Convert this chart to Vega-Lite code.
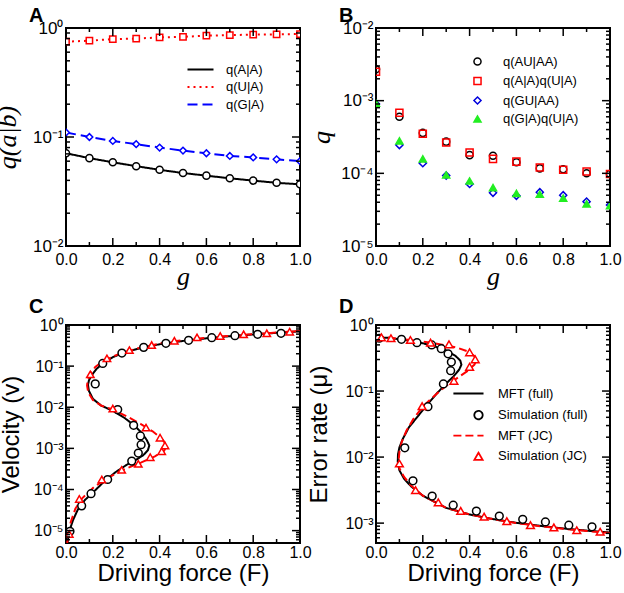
{
"$schema": "https://vega.github.io/schema/vega-lite/v6.json",
"background": "white",
"autosize": {"type": "none"},
"padding": {"left": 66, "top": 28, "right": 558, "bottom": 565},
"columns": 2,
"bounds": "flush",
"spacing": {"row": 79, "column": 76},
"resolve": {
  "scale": {"color": "independent", "shape": "independent", "strokeDash": "independent", "stroke": "independent", "fill": "independent"},
  "legend": {"color": "independent", "shape": "independent", "strokeDash": "independent", "stroke": "independent", "fill": "independent"}
},
"config": {
  "view": {"stroke": "black", "strokeWidth": 2},
  "axis": {"labelFont": "Liberation Sans", "titleFont": "Liberation Sans", "labelFontSize": 16, "titleFontSize": 24, "titleFontWeight": "normal", "labelColor": "black", "titleColor": "black", "ticks": false, "domain": false, "grid": false, "labelFlush": false, "labelOverlap": false, "labelBound": false},
  "legend": {"labelFont": "Liberation Sans", "labelFontSize": 13, "labelColor": "black", "padding": 0},
  "title": {"font": "Liberation Sans", "fontSize": 20, "fontWeight": "bold", "color": "black", "anchor": "start", "frame": "group"},
  "tick": {"thickness": 1.5, "opacity": 1, "color": "black"}
},
"datasets": {
  "xt": [{"t":0.1,"k":"minor"},{"t":0.2,"k":"major"},{"t":0.3,"k":"minor"},{"t":0.4,"k":"major"},{"t":0.5,"k":"minor"},{"t":0.6,"k":"major"},{"t":0.7,"k":"minor"},{"t":0.8,"k":"major"},{"t":0.9,"k":"minor"}],
  "yA": [{"t":0.02,"k":"minor"},{"t":0.03,"k":"minor"},{"t":0.04,"k":"minor"},{"t":0.05,"k":"minor"},{"t":0.06,"k":"minor"},{"t":0.07,"k":"minor"},{"t":0.08,"k":"minor"},{"t":0.09,"k":"minor"},{"t":0.1,"k":"major"},{"t":0.2,"k":"minor"},{"t":0.3,"k":"minor"},{"t":0.4,"k":"minor"},{"t":0.5,"k":"minor"},{"t":0.6,"k":"minor"},{"t":0.7,"k":"minor"},{"t":0.8,"k":"minor"},{"t":0.9,"k":"minor"}],
  "yB": [{"t":0.00002,"k":"minor"},{"t":0.00003,"k":"minor"},{"t":0.00004,"k":"minor"},{"t":0.00005,"k":"minor"},{"t":0.00006,"k":"minor"},{"t":0.00007,"k":"minor"},{"t":0.00008,"k":"minor"},{"t":0.00009,"k":"minor"},{"t":0.0001,"k":"major"},{"t":0.0002,"k":"minor"},{"t":0.0003,"k":"minor"},{"t":0.0004,"k":"minor"},{"t":0.0005,"k":"minor"},{"t":0.0006,"k":"minor"},{"t":0.0007,"k":"minor"},{"t":0.0008,"k":"minor"},{"t":0.0009,"k":"minor"},{"t":0.001,"k":"major"},{"t":0.002,"k":"minor"},{"t":0.003,"k":"minor"},{"t":0.004,"k":"minor"},{"t":0.005,"k":"minor"},{"t":0.006,"k":"minor"},{"t":0.007,"k":"minor"},{"t":0.008,"k":"minor"},{"t":0.009,"k":"minor"}],
  "yC": [{"t":0.000006,"k":"minor"},{"t":0.000007,"k":"minor"},{"t":0.000008,"k":"minor"},{"t":0.000009,"k":"minor"},{"t":0.00001,"k":"major"},{"t":0.00002,"k":"minor"},{"t":0.00003,"k":"minor"},{"t":0.00004,"k":"minor"},{"t":0.00005,"k":"minor"},{"t":0.00006,"k":"minor"},{"t":0.00007,"k":"minor"},{"t":0.00008,"k":"minor"},{"t":0.00009,"k":"minor"},{"t":0.0001,"k":"major"},{"t":0.0002,"k":"minor"},{"t":0.0003,"k":"minor"},{"t":0.0004,"k":"minor"},{"t":0.0005,"k":"minor"},{"t":0.0006,"k":"minor"},{"t":0.0007,"k":"minor"},{"t":0.0008,"k":"minor"},{"t":0.0009,"k":"minor"},{"t":0.001,"k":"major"},{"t":0.002,"k":"minor"},{"t":0.003,"k":"minor"},{"t":0.004,"k":"minor"},{"t":0.005,"k":"minor"},{"t":0.006,"k":"minor"},{"t":0.007,"k":"minor"},{"t":0.008,"k":"minor"},{"t":0.009,"k":"minor"},{"t":0.01,"k":"major"},{"t":0.02,"k":"minor"},{"t":0.03,"k":"minor"},{"t":0.04,"k":"minor"},{"t":0.05,"k":"minor"},{"t":0.06,"k":"minor"},{"t":0.07,"k":"minor"},{"t":0.08,"k":"minor"},{"t":0.09,"k":"minor"},{"t":0.1,"k":"major"},{"t":0.2,"k":"minor"},{"t":0.3,"k":"minor"},{"t":0.4,"k":"minor"},{"t":0.5,"k":"minor"},{"t":0.6,"k":"minor"},{"t":0.7,"k":"minor"},{"t":0.8,"k":"minor"},{"t":0.9,"k":"minor"}],
  "yD": [{"t":0.0006,"k":"minor"},{"t":0.0007,"k":"minor"},{"t":0.0008,"k":"minor"},{"t":0.0009,"k":"minor"},{"t":0.001,"k":"major"},{"t":0.002,"k":"minor"},{"t":0.003,"k":"minor"},{"t":0.004,"k":"minor"},{"t":0.005,"k":"minor"},{"t":0.006,"k":"minor"},{"t":0.007,"k":"minor"},{"t":0.008,"k":"minor"},{"t":0.009,"k":"minor"},{"t":0.01,"k":"major"},{"t":0.02,"k":"minor"},{"t":0.03,"k":"minor"},{"t":0.04,"k":"minor"},{"t":0.05,"k":"minor"},{"t":0.06,"k":"minor"},{"t":0.07,"k":"minor"},{"t":0.08,"k":"minor"},{"t":0.09,"k":"minor"},{"t":0.1,"k":"major"},{"t":0.2,"k":"minor"},{"t":0.3,"k":"minor"},{"t":0.4,"k":"minor"},{"t":0.5,"k":"minor"},{"t":0.6,"k":"minor"},{"t":0.7,"k":"minor"},{"t":0.8,"k":"minor"},{"t":0.9,"k":"minor"}],
  "A": [
    {"g":0.0,"s":"q(A|A)","q":0.071},{"g":0.1,"s":"q(A|A)","q":0.064},{"g":0.2,"s":"q(A|A)","q":0.0586},{"g":0.3,"s":"q(A|A)","q":0.054},{"g":0.4,"s":"q(A|A)","q":0.050},{"g":0.5,"s":"q(A|A)","q":0.0467},{"g":0.6,"s":"q(A|A)","q":0.0442},{"g":0.7,"s":"q(A|A)","q":0.0418},{"g":0.8,"s":"q(A|A)","q":0.0398},{"g":0.9,"s":"q(A|A)","q":0.038},{"g":1.0,"s":"q(A|A)","q":0.0368},
    {"g":0.0,"s":"q(U|A)","q":0.75},{"g":0.1,"s":"q(U|A)","q":0.765},{"g":0.2,"s":"q(U|A)","q":0.79},{"g":0.3,"s":"q(U|A)","q":0.80},{"g":0.4,"s":"q(U|A)","q":0.82},{"g":0.5,"s":"q(U|A)","q":0.83},{"g":0.6,"s":"q(U|A)","q":0.85},{"g":0.7,"s":"q(U|A)","q":0.86},{"g":0.8,"s":"q(U|A)","q":0.87},{"g":0.9,"s":"q(U|A)","q":0.875},{"g":1.0,"s":"q(U|A)","q":0.88},
    {"g":0.0,"s":"q(G|A)","q":0.11},{"g":0.1,"s":"q(G|A)","q":0.10},{"g":0.2,"s":"q(G|A)","q":0.092},{"g":0.3,"s":"q(G|A)","q":0.086},{"g":0.4,"s":"q(G|A)","q":0.080},{"g":0.5,"s":"q(G|A)","q":0.075},{"g":0.6,"s":"q(G|A)","q":0.071},{"g":0.7,"s":"q(G|A)","q":0.067},{"g":0.8,"s":"q(G|A)","q":0.065},{"g":0.9,"s":"q(G|A)","q":0.0624},{"g":1.0,"s":"q(G|A)","q":0.060}
  ],
  "B": [
    {"g":0.0,"s":"q(AU|AA)","q":0.0027},{"g":0.1,"s":"q(AU|AA)","q":0.0006},{"g":0.2,"s":"q(AU|AA)","q":0.00036},{"g":0.3,"s":"q(AU|AA)","q":0.000273},{"g":0.4,"s":"q(AU|AA)","q":0.000178},{"g":0.5,"s":"q(AU|AA)","q":0.000175},{"g":0.6,"s":"q(AU|AA)","q":0.000142},{"g":0.7,"s":"q(AU|AA)","q":0.000117},{"g":0.8,"s":"q(AU|AA)","q":0.000114},{"g":0.9,"s":"q(AU|AA)","q":0.0001},{"g":1.0,"s":"q(AU|AA)","q":0.000098},
    {"g":0.0,"s":"q(A|A)q(U|A)","q":0.0025},{"g":0.1,"s":"q(A|A)q(U|A)","q":0.00068},{"g":0.2,"s":"q(A|A)q(U|A)","q":0.00035},{"g":0.3,"s":"q(A|A)q(U|A)","q":0.000265},{"g":0.4,"s":"q(A|A)q(U|A)","q":0.000193},{"g":0.5,"s":"q(A|A)q(U|A)","q":0.000158},{"g":0.6,"s":"q(A|A)q(U|A)","q":0.000145},{"g":0.7,"s":"q(A|A)q(U|A)","q":0.00012},{"g":0.8,"s":"q(A|A)q(U|A)","q":0.000112},{"g":0.9,"s":"q(A|A)q(U|A)","q":0.000106},{"g":1.0,"s":"q(A|A)q(U|A)","q":0.000098},
    {"g":0.0,"s":"q(GU|AA)","q":0.0009},{"g":0.1,"s":"q(GU|AA)","q":0.000245},{"g":0.2,"s":"q(GU|AA)","q":0.000138},{"g":0.3,"s":"q(GU|AA)","q":0.000093},{"g":0.4,"s":"q(GU|AA)","q":0.0000715},{"g":0.5,"s":"q(GU|AA)","q":0.000054},{"g":0.6,"s":"q(GU|AA)","q":0.000049},{"g":0.7,"s":"q(GU|AA)","q":0.000055},{"g":0.8,"s":"q(GU|AA)","q":0.00005},{"g":0.9,"s":"q(GU|AA)","q":0.0000408},{"g":1.0,"s":"q(GU|AA)","q":0.0000367},
    {"g":0.0,"s":"q(G|A)q(U|A)","q":0.00092},{"g":0.1,"s":"q(G|A)q(U|A)","q":0.00028},{"g":0.2,"s":"q(G|A)q(U|A)","q":0.000158},{"g":0.3,"s":"q(G|A)q(U|A)","q":0.000095},{"g":0.4,"s":"q(G|A)q(U|A)","q":0.0000785},{"g":0.5,"s":"q(G|A)q(U|A)","q":0.0000635},{"g":0.6,"s":"q(G|A)q(U|A)","q":0.000053},{"g":0.7,"s":"q(G|A)q(U|A)","q":0.0000515},{"g":0.8,"s":"q(G|A)q(U|A)","q":0.0000455},{"g":0.9,"s":"q(G|A)q(U|A)","q":0.000038},{"g":1.0,"s":"q(G|A)q(U|A)","q":0.000036}
  ],
  "Cline": [
    {"s":"MFT (full)","i":1,"F":1.0,"v":0.70},{"s":"MFT (full)","i":2,"F":0.9,"v":0.645},{"s":"MFT (full)","i":3,"F":0.8,"v":0.59},{"s":"MFT (full)","i":4,"F":0.7,"v":0.535},{"s":"MFT (full)","i":5,"F":0.6,"v":0.475},{"s":"MFT (full)","i":6,"F":0.5,"v":0.41},{"s":"MFT (full)","i":7,"F":0.4,"v":0.34},{"s":"MFT (full)","i":8,"F":0.33,"v":0.285},{"s":"MFT (full)","i":9,"F":0.25,"v":0.215},{"s":"MFT (full)","i":10,"F":0.2,"v":0.165},{"s":"MFT (full)","i":11,"F":0.16,"v":0.12},{"s":"MFT (full)","i":12,"F":0.13,"v":0.085},{"s":"MFT (full)","i":13,"F":0.11,"v":0.06},{"s":"MFT (full)","i":14,"F":0.098,"v":0.045},{"s":"MFT (full)","i":15,"F":0.094,"v":0.035},{"s":"MFT (full)","i":16,"F":0.098,"v":0.025},{"s":"MFT (full)","i":17,"F":0.115,"v":0.016},{"s":"MFT (full)","i":18,"F":0.15,"v":0.011},{"s":"MFT (full)","i":19,"F":0.2,"v":0.0082},{"s":"MFT (full)","i":20,"F":0.25,"v":0.0055},{"s":"MFT (full)","i":21,"F":0.29,"v":0.0037},{"s":"MFT (full)","i":22,"F":0.32,"v":0.0025},{"s":"MFT (full)","i":23,"F":0.345,"v":0.0016},{"s":"MFT (full)","i":24,"F":0.356,"v":0.00118},{"s":"MFT (full)","i":25,"F":0.35,"v":0.0009},{"s":"MFT (full)","i":26,"F":0.33,"v":0.00068},{"s":"MFT (full)","i":27,"F":0.3,"v":0.00053},{"s":"MFT (full)","i":28,"F":0.26,"v":0.0004},{"s":"MFT (full)","i":29,"F":0.21,"v":0.00026},{"s":"MFT (full)","i":30,"F":0.16,"v":0.00015},{"s":"MFT (full)","i":31,"F":0.12,"v":0.00009},{"s":"MFT (full)","i":32,"F":0.08,"v":0.000055},{"s":"MFT (full)","i":33,"F":0.05,"v":0.000032},{"s":"MFT (full)","i":34,"F":0.03,"v":0.000018},{"s":"MFT (full)","i":35,"F":0.015,"v":0.00001},{"s":"MFT (full)","i":36,"F":0.006,"v":0.000005},
    {"s":"MFT (JC)","i":1,"F":1.0,"v":0.71},{"s":"MFT (JC)","i":2,"F":0.9,"v":0.655},{"s":"MFT (JC)","i":3,"F":0.8,"v":0.60},{"s":"MFT (JC)","i":4,"F":0.7,"v":0.545},{"s":"MFT (JC)","i":5,"F":0.6,"v":0.49},{"s":"MFT (JC)","i":6,"F":0.5,"v":0.43},{"s":"MFT (JC)","i":7,"F":0.4,"v":0.355},{"s":"MFT (JC)","i":8,"F":0.3,"v":0.265},{"s":"MFT (JC)","i":9,"F":0.22,"v":0.19},{"s":"MFT (JC)","i":10,"F":0.16,"v":0.135},{"s":"MFT (JC)","i":11,"F":0.125,"v":0.095},{"s":"MFT (JC)","i":12,"F":0.105,"v":0.066},{"s":"MFT (JC)","i":13,"F":0.093,"v":0.047},{"s":"MFT (JC)","i":14,"F":0.09,"v":0.034},{"s":"MFT (JC)","i":15,"F":0.095,"v":0.023},{"s":"MFT (JC)","i":16,"F":0.115,"v":0.015},{"s":"MFT (JC)","i":17,"F":0.15,"v":0.011},{"s":"MFT (JC)","i":18,"F":0.2,"v":0.0088},{"s":"MFT (JC)","i":19,"F":0.26,"v":0.006},{"s":"MFT (JC)","i":20,"F":0.32,"v":0.0039},{"s":"MFT (JC)","i":21,"F":0.37,"v":0.0026},{"s":"MFT (JC)","i":22,"F":0.41,"v":0.0017},{"s":"MFT (JC)","i":23,"F":0.43,"v":0.0012},{"s":"MFT (JC)","i":24,"F":0.42,"v":0.00088},{"s":"MFT (JC)","i":25,"F":0.38,"v":0.00064},{"s":"MFT (JC)","i":26,"F":0.32,"v":0.00045},{"s":"MFT (JC)","i":27,"F":0.25,"v":0.00031},{"s":"MFT (JC)","i":28,"F":0.18,"v":0.000195},{"s":"MFT (JC)","i":29,"F":0.12,"v":0.000115},{"s":"MFT (JC)","i":30,"F":0.07,"v":0.000062},{"s":"MFT (JC)","i":31,"F":0.04,"v":0.000034},{"s":"MFT (JC)","i":32,"F":0.02,"v":0.000016},{"s":"MFT (JC)","i":33,"F":0.01,"v":0.000008},{"s":"MFT (JC)","i":34,"F":0.005,"v":0.000005}
  ],
  "Cpts": [
    {"s":"Simulation (full)","F":0.919,"v":0.628},{"s":"Simulation (full)","F":0.819,"v":0.593},{"s":"Simulation (full)","F":0.722,"v":0.548},{"s":"Simulation (full)","F":0.623,"v":0.49},{"s":"Simulation (full)","F":0.524,"v":0.424},{"s":"Simulation (full)","F":0.427,"v":0.358},{"s":"Simulation (full)","F":0.332,"v":0.286},{"s":"Simulation (full)","F":0.239,"v":0.208},{"s":"Simulation (full)","F":0.157,"v":0.116},{"s":"Simulation (full)","F":0.125,"v":0.037},{"s":"Simulation (full)","F":0.221,"v":0.0088},{"s":"Simulation (full)","F":0.289,"v":0.00364},{"s":"Simulation (full)","F":0.318,"v":0.002},{"s":"Simulation (full)","F":0.321,"v":0.00123},{"s":"Simulation (full)","F":0.309,"v":0.00077},{"s":"Simulation (full)","F":0.281,"v":0.00049},{"s":"Simulation (full)","F":0.178,"v":0.000175},{"s":"Simulation (full)","F":0.107,"v":0.000079},{"s":"Simulation (full)","F":0.067,"v":0.00004},{"s":"Simulation (full)","F":0.017,"v":0.0000096},
    {"s":"Simulation (JC)","F":0.956,"v":0.687},{"s":"Simulation (JC)","F":0.858,"v":0.628},{"s":"Simulation (JC)","F":0.759,"v":0.593},{"s":"Simulation (JC)","F":0.659,"v":0.539},{"s":"Simulation (JC)","F":0.56,"v":0.5},{"s":"Simulation (JC)","F":0.463,"v":0.414},{"s":"Simulation (JC)","F":0.366,"v":0.325},{"s":"Simulation (JC)","F":0.271,"v":0.245},{"s":"Simulation (JC)","F":0.175,"v":0.154},{"s":"Simulation (JC)","F":0.104,"v":0.063},{"s":"Simulation (JC)","F":0.2,"v":0.0093},{"s":"Simulation (JC)","F":0.342,"v":0.0032},{"s":"Simulation (JC)","F":0.402,"v":0.00182},{"s":"Simulation (JC)","F":0.423,"v":0.00118},{"s":"Simulation (JC)","F":0.409,"v":0.00085},{"s":"Simulation (JC)","F":0.36,"v":0.00061},{"s":"Simulation (JC)","F":0.309,"v":0.00042},{"s":"Simulation (JC)","F":0.238,"v":0.0003},{"s":"Simulation (JC)","F":0.153,"v":0.000175},{"s":"Simulation (JC)","F":0.057,"v":0.000059},{"s":"Simulation (JC)","F":0.014,"v":0.0000083}
  ],
  "Dline": [
    {"s":"MFT (full)","i":1,"F":0.0,"m":0.65},{"s":"MFT (full)","i":2,"F":0.05,"m":0.64},{"s":"MFT (full)","i":3,"F":0.1,"m":0.61},{"s":"MFT (full)","i":4,"F":0.15,"m":0.575},{"s":"MFT (full)","i":5,"F":0.2,"m":0.53},{"s":"MFT (full)","i":6,"F":0.25,"m":0.475},{"s":"MFT (full)","i":7,"F":0.3,"m":0.41},{"s":"MFT (full)","i":8,"F":0.34,"m":0.34},{"s":"MFT (full)","i":9,"F":0.36,"m":0.29},{"s":"MFT (full)","i":10,"F":0.365,"m":0.25},{"s":"MFT (full)","i":11,"F":0.355,"m":0.21},{"s":"MFT (full)","i":12,"F":0.33,"m":0.165},{"s":"MFT (full)","i":13,"F":0.3,"m":0.13},{"s":"MFT (full)","i":14,"F":0.26,"m":0.092},{"s":"MFT (full)","i":15,"F":0.22,"m":0.063},{"s":"MFT (full)","i":16,"F":0.18,"m":0.042},{"s":"MFT (full)","i":17,"F":0.14,"m":0.028},{"s":"MFT (full)","i":18,"F":0.115,"m":0.019},{"s":"MFT (full)","i":19,"F":0.1,"m":0.014},{"s":"MFT (full)","i":20,"F":0.094,"m":0.011},{"s":"MFT (full)","i":21,"F":0.093,"m":0.0085},{"s":"MFT (full)","i":22,"F":0.1,"m":0.0063},{"s":"MFT (full)","i":23,"F":0.12,"m":0.0047},{"s":"MFT (full)","i":24,"F":0.15,"m":0.0036},{"s":"MFT (full)","i":25,"F":0.2,"m":0.0026},{"s":"MFT (full)","i":26,"F":0.3,"m":0.0017},{"s":"MFT (full)","i":27,"F":0.4,"m":0.00135},{"s":"MFT (full)","i":28,"F":0.5,"m":0.00115},{"s":"MFT (full)","i":29,"F":0.6,"m":0.00101},{"s":"MFT (full)","i":30,"F":0.7,"m":0.00091},{"s":"MFT (full)","i":31,"F":0.8,"m":0.00083},{"s":"MFT (full)","i":32,"F":0.9,"m":0.00077},{"s":"MFT (full)","i":33,"F":1.0,"m":0.00072},
    {"s":"MFT (JC)","i":1,"F":0.0,"m":0.66},{"s":"MFT (JC)","i":2,"F":0.05,"m":0.645},{"s":"MFT (JC)","i":3,"F":0.1,"m":0.62},{"s":"MFT (JC)","i":4,"F":0.15,"m":0.59},{"s":"MFT (JC)","i":5,"F":0.2,"m":0.56},{"s":"MFT (JC)","i":6,"F":0.25,"m":0.53},{"s":"MFT (JC)","i":7,"F":0.3,"m":0.49},{"s":"MFT (JC)","i":8,"F":0.35,"m":0.45},{"s":"MFT (JC)","i":9,"F":0.39,"m":0.4},{"s":"MFT (JC)","i":10,"F":0.42,"m":0.34},{"s":"MFT (JC)","i":11,"F":0.43,"m":0.29},{"s":"MFT (JC)","i":12,"F":0.42,"m":0.25},{"s":"MFT (JC)","i":13,"F":0.39,"m":0.2},{"s":"MFT (JC)","i":14,"F":0.35,"m":0.16},{"s":"MFT (JC)","i":15,"F":0.3,"m":0.12},{"s":"MFT (JC)","i":16,"F":0.25,"m":0.085},{"s":"MFT (JC)","i":17,"F":0.2,"m":0.058},{"s":"MFT (JC)","i":18,"F":0.16,"m":0.038},{"s":"MFT (JC)","i":19,"F":0.13,"m":0.025},{"s":"MFT (JC)","i":20,"F":0.11,"m":0.017},{"s":"MFT (JC)","i":21,"F":0.1,"m":0.012},{"s":"MFT (JC)","i":22,"F":0.097,"m":0.009},{"s":"MFT (JC)","i":23,"F":0.1,"m":0.0068},{"s":"MFT (JC)","i":24,"F":0.12,"m":0.005},{"s":"MFT (JC)","i":25,"F":0.15,"m":0.0037},{"s":"MFT (JC)","i":26,"F":0.2,"m":0.0026},{"s":"MFT (JC)","i":27,"F":0.3,"m":0.0017},{"s":"MFT (JC)","i":28,"F":0.4,"m":0.00135},{"s":"MFT (JC)","i":29,"F":0.5,"m":0.00115},{"s":"MFT (JC)","i":30,"F":0.6,"m":0.001},{"s":"MFT (JC)","i":31,"F":0.7,"m":0.0009},{"s":"MFT (JC)","i":32,"F":0.8,"m":0.00082},{"s":"MFT (JC)","i":33,"F":0.9,"m":0.00076},{"s":"MFT (JC)","i":34,"F":1.0,"m":0.00071}
  ],
  "Dpts": [
    {"s":"Simulation (full)","F":0.014,"m":0.63},{"s":"Simulation (full)","F":0.109,"m":0.607},{"s":"Simulation (full)","F":0.175,"m":0.54},{"s":"Simulation (full)","F":0.238,"m":0.498},{"s":"Simulation (full)","F":0.279,"m":0.437},{"s":"Simulation (full)","F":0.308,"m":0.366},{"s":"Simulation (full)","F":0.322,"m":0.275},{"s":"Simulation (full)","F":0.319,"m":0.203},{"s":"Simulation (full)","F":0.288,"m":0.128},{"s":"Simulation (full)","F":0.222,"m":0.058},{"s":"Simulation (full)","F":0.123,"m":0.0138},{"s":"Simulation (full)","F":0.158,"m":0.00437},{"s":"Simulation (full)","F":0.24,"m":0.00257},{"s":"Simulation (full)","F":0.33,"m":0.00187},{"s":"Simulation (full)","F":0.429,"m":0.00152},{"s":"Simulation (full)","F":0.527,"m":0.00128},{"s":"Simulation (full)","F":0.627,"m":0.00114},{"s":"Simulation (full)","F":0.724,"m":0.00104},{"s":"Simulation (full)","F":0.824,"m":0.00093},{"s":"Simulation (full)","F":0.923,"m":0.00088},
    {"s":"Simulation (JC)","F":0.023,"m":0.651},{"s":"Simulation (JC)","F":0.064,"m":0.63},{"s":"Simulation (JC)","F":0.147,"m":0.593},{"s":"Simulation (JC)","F":0.233,"m":0.54},{"s":"Simulation (JC)","F":0.312,"m":0.51},{"s":"Simulation (JC)","F":0.4,"m":0.386},{"s":"Simulation (JC)","F":0.424,"m":0.302},{"s":"Simulation (JC)","F":0.4,"m":0.233},{"s":"Simulation (JC)","F":0.333,"m":0.143},{"s":"Simulation (JC)","F":0.197,"m":0.059},{"s":"Simulation (JC)","F":0.1,"m":0.008},{"s":"Simulation (JC)","F":0.169,"m":0.00316},{"s":"Simulation (JC)","F":0.266,"m":0.00206},{"s":"Simulation (JC)","F":0.362,"m":0.00153},{"s":"Simulation (JC)","F":0.462,"m":0.00125},{"s":"Simulation (JC)","F":0.559,"m":0.00107},{"s":"Simulation (JC)","F":0.66,"m":0.00093},{"s":"Simulation (JC)","F":0.76,"m":0.00086},{"s":"Simulation (JC)","F":0.858,"m":0.00078},{"s":"Simulation (JC)","F":0.958,"m":0.00074}
  ]
},
"concat": [
  {
    "width": 234, "height": 218,
    "title": {"text": "A", "dx": -37, "offset": -7},
    "layer": [
      {"data": {"name": "A"},
       "mark": {"type": "line", "strokeWidth": 2, "clip": true},
       "encoding": {
         "x": {"field": "g", "type": "quantitative", "scale": {"domain": [0, 1], "nice": false, "zero": false}, "axis": {"orient": "bottom", "values": [0, 0.2, 0.4, 0.6, 0.8, 1], "format": ".1f", "labelPadding": 5, "title": "g", "titleFont": "Liberation Serif", "titleFontStyle": "italic", "titleFontSize": 26, "titlePadding": -4}},
         "y": {"field": "q", "type": "quantitative", "scale": {"type": "log", "domain": [0.01, 1], "nice": false}, "axis": {"orient": "left", "values": [0.01, 0.1, 1], "labelExpr": "'10' + (datum.value < 0.99 ? '⁻' : '') + ['⁰','¹','²','³','⁴','⁵','⁶'][round(abs(log(datum.value)/LN10))]", "labelPadding": 3, "labelFontSize": 17, "title": "q(a|b)", "titleFont": "Liberation Serif", "titleFontStyle": "italic", "titleFontSize": 26, "titlePadding": 12}},
         "color": {"field": "s", "type": "nominal", "scale": {"domain": ["q(A|A)", "q(U|A)", "q(G|A)"], "range": ["black", "#ff0000", "#0000ff"]}, "legend": {"orient": "none", "legendX": 128, "legendY": 35, "title": null, "symbolType": "M-3.25,0H3.25", "symbolSize": 64, "symbolStrokeWidth": 2, "labelOffset": 19, "rowPadding": 3.5}},
         "strokeDash": {"field": "s", "type": "nominal", "scale": {"domain": ["q(A|A)", "q(U|A)", "q(G|A)"], "range": [[1, 0], [2, 4], [10, 5]]}, "legend": {"orient": "none", "legendX": 128, "legendY": 35, "title": null, "symbolType": "M-3.25,0H3.25", "symbolSize": 64, "symbolStrokeWidth": 2, "labelOffset": 19, "rowPadding": 3.5}}
       }},
      {"data": {"name": "A"}, "transform": [{"filter": "datum.s == 'q(A|A)'"}],
       "mark": {"type": "point", "shape": "circle", "filled": false, "fill": "white", "stroke": "black", "strokeWidth": 1.5, "size": 50, "opacity": 1, "clip": true},
       "encoding": {"x": {"field": "g", "type": "quantitative", "scale": {"domain": [0, 1], "nice": false, "zero": false}}, "y": {"field": "q", "type": "quantitative", "scale": {"type": "log", "domain": [0.01, 1], "nice": false}}}},
      {"data": {"name": "A"}, "transform": [{"filter": "datum.s == 'q(U|A)'"}],
       "mark": {"type": "point", "shape": "square", "filled": false, "fill": "white", "stroke": "#ff0000", "strokeWidth": 1.5, "size": 40, "opacity": 1, "clip": true},
       "encoding": {"x": {"field": "g", "type": "quantitative", "scale": {"domain": [0, 1], "nice": false, "zero": false}}, "y": {"field": "q", "type": "quantitative", "scale": {"type": "log", "domain": [0.01, 1], "nice": false}}}},
      {"data": {"name": "A"}, "transform": [{"filter": "datum.s == 'q(G|A)'"}],
       "mark": {"type": "point", "shape": "diamond", "filled": false, "fill": "white", "stroke": "#0000ff", "strokeWidth": 1.5, "size": 45, "opacity": 1, "clip": true},
       "encoding": {"x": {"field": "g", "type": "quantitative", "scale": {"domain": [0, 1], "nice": false, "zero": false}}, "y": {"field": "q", "type": "quantitative", "scale": {"type": "log", "domain": [0.01, 1], "nice": false}}}},
      {"data": {"name": "yA"}, "transform": [{"filter": "datum.k == 'major'"}], "mark": {"type": "tick", "orient": "horizontal", "size": 8, "xOffset": 4, "clip": true},
       "encoding": {"x": {"datum": 0, "type": "quantitative", "scale": {"domain": [0, 1], "nice": false, "zero": false}}, "y": {"field": "t", "type": "quantitative", "scale": {"type": "log", "domain": [0.01, 1], "nice": false}}}},
      {"data": {"name": "yA"}, "transform": [{"filter": "datum.k == 'minor'"}], "mark": {"type": "tick", "orient": "horizontal", "size": 4, "xOffset": 2, "clip": true},
       "encoding": {"x": {"datum": 0, "type": "quantitative", "scale": {"domain": [0, 1], "nice": false, "zero": false}}, "y": {"field": "t", "type": "quantitative", "scale": {"type": "log", "domain": [0.01, 1], "nice": false}}}},
      {"data": {"name": "yA"}, "transform": [{"filter": "datum.k == 'major'"}], "mark": {"type": "tick", "orient": "horizontal", "size": 8, "xOffset": -4, "clip": true},
       "encoding": {"x": {"datum": 1, "type": "quantitative", "scale": {"domain": [0, 1], "nice": false, "zero": false}}, "y": {"field": "t", "type": "quantitative", "scale": {"type": "log", "domain": [0.01, 1], "nice": false}}}},
      {"data": {"name": "yA"}, "transform": [{"filter": "datum.k == 'minor'"}], "mark": {"type": "tick", "orient": "horizontal", "size": 4, "xOffset": -2, "clip": true},
       "encoding": {"x": {"datum": 1, "type": "quantitative", "scale": {"domain": [0, 1], "nice": false, "zero": false}}, "y": {"field": "t", "type": "quantitative", "scale": {"type": "log", "domain": [0.01, 1], "nice": false}}}},
      {"data": {"name": "xt"}, "transform": [{"filter": "datum.k == 'major'"}], "mark": {"type": "tick", "orient": "vertical", "size": 8, "yOffset": -4, "clip": true},
       "encoding": {"x": {"field": "t", "type": "quantitative", "scale": {"domain": [0, 1], "nice": false, "zero": false}}, "y": {"datum": 0.01, "type": "quantitative", "scale": {"type": "log", "domain": [0.01, 1], "nice": false}}}},
      {"data": {"name": "xt"}, "transform": [{"filter": "datum.k == 'minor'"}], "mark": {"type": "tick", "orient": "vertical", "size": 4, "yOffset": -2, "clip": true},
       "encoding": {"x": {"field": "t", "type": "quantitative", "scale": {"domain": [0, 1], "nice": false, "zero": false}}, "y": {"datum": 0.01, "type": "quantitative", "scale": {"type": "log", "domain": [0.01, 1], "nice": false}}}},
      {"data": {"name": "xt"}, "transform": [{"filter": "datum.k == 'major'"}], "mark": {"type": "tick", "orient": "vertical", "size": 8, "yOffset": 4, "clip": true},
       "encoding": {"x": {"field": "t", "type": "quantitative", "scale": {"domain": [0, 1], "nice": false, "zero": false}}, "y": {"datum": 1, "type": "quantitative", "scale": {"type": "log", "domain": [0.01, 1], "nice": false}}}},
      {"data": {"name": "xt"}, "transform": [{"filter": "datum.k == 'minor'"}], "mark": {"type": "tick", "orient": "vertical", "size": 4, "yOffset": 2, "clip": true},
       "encoding": {"x": {"field": "t", "type": "quantitative", "scale": {"domain": [0, 1], "nice": false, "zero": false}}, "y": {"datum": 1, "type": "quantitative", "scale": {"type": "log", "domain": [0.01, 1], "nice": false}}}}
    ]
  },
  {
    "width": 234, "height": 218,
    "title": {"text": "B", "dx": -37, "offset": -7},
    "layer": [
      {"data": {"name": "B"},
       "mark": {"type": "point", "strokeWidth": 1.5, "size": 50, "opacity": 1, "clip": true},
       "encoding": {
         "x": {"field": "g", "type": "quantitative", "scale": {"domain": [0, 1], "nice": false, "zero": false}, "axis": {"orient": "bottom", "values": [0, 0.2, 0.4, 0.6, 0.8, 1], "format": ".1f", "labelPadding": 5, "title": "g", "titleFont": "Liberation Serif", "titleFontStyle": "italic", "titleFontSize": 26, "titlePadding": -4}},
         "y": {"field": "q", "type": "quantitative", "scale": {"type": "log", "domain": [0.00001, 0.01], "nice": false}, "axis": {"orient": "left", "values": [0.00001, 0.0001, 0.001, 0.01], "labelExpr": "'10' + (datum.value < 0.99 ? '⁻' : '') + ['⁰','¹','²','³','⁴','⁵','⁶'][round(abs(log(datum.value)/LN10))]", "labelPadding": 3, "labelFontSize": 17, "title": "q", "titleFont": "Liberation Serif", "titleFontStyle": "italic", "titleFontSize": 26, "titlePadding": 6}},
         "stroke": {"field": "s", "type": "nominal", "scale": {"domain": ["q(AU|AA)", "q(A|A)q(U|A)", "q(GU|AA)", "q(G|A)q(U|A)"], "range": ["black", "#ff0000", "#0000dd", "#22ee22"]}, "legend": {"orient": "none", "legendX": 95, "legendY": 27, "title": null, "symbolSize": 50, "symbolStrokeWidth": 1.5, "labelOffset": 19, "rowPadding": 4.5}},
         "fill": {"field": "s", "type": "nominal", "scale": {"domain": ["q(AU|AA)", "q(A|A)q(U|A)", "q(GU|AA)", "q(G|A)q(U|A)"], "range": ["transparent", "transparent", "transparent", "#22ee22"]}, "legend": {"orient": "none", "legendX": 95, "legendY": 27, "title": null, "symbolSize": 50, "symbolStrokeWidth": 1.5, "labelOffset": 19, "rowPadding": 4.5}},
         "shape": {"field": "s", "type": "nominal", "scale": {"domain": ["q(AU|AA)", "q(A|A)q(U|A)", "q(GU|AA)", "q(G|A)q(U|A)"], "range": ["circle", "square", "diamond", "triangle-up"]}, "legend": {"orient": "none", "legendX": 95, "legendY": 27, "title": null, "symbolSize": 50, "symbolStrokeWidth": 1.5, "labelOffset": 19, "rowPadding": 4.5}}
       }},
      {"data": {"name": "yB"}, "transform": [{"filter": "datum.k == 'major'"}], "mark": {"type": "tick", "orient": "horizontal", "size": 8, "xOffset": 4, "clip": true},
       "encoding": {"x": {"datum": 0, "type": "quantitative", "scale": {"domain": [0, 1], "nice": false, "zero": false}}, "y": {"field": "t", "type": "quantitative", "scale": {"type": "log", "domain": [0.00001, 0.01], "nice": false}}}},
      {"data": {"name": "yB"}, "transform": [{"filter": "datum.k == 'minor'"}], "mark": {"type": "tick", "orient": "horizontal", "size": 4, "xOffset": 2, "clip": true},
       "encoding": {"x": {"datum": 0, "type": "quantitative", "scale": {"domain": [0, 1], "nice": false, "zero": false}}, "y": {"field": "t", "type": "quantitative", "scale": {"type": "log", "domain": [0.00001, 0.01], "nice": false}}}},
      {"data": {"name": "yB"}, "transform": [{"filter": "datum.k == 'major'"}], "mark": {"type": "tick", "orient": "horizontal", "size": 8, "xOffset": -4, "clip": true},
       "encoding": {"x": {"datum": 1, "type": "quantitative", "scale": {"domain": [0, 1], "nice": false, "zero": false}}, "y": {"field": "t", "type": "quantitative", "scale": {"type": "log", "domain": [0.00001, 0.01], "nice": false}}}},
      {"data": {"name": "yB"}, "transform": [{"filter": "datum.k == 'minor'"}], "mark": {"type": "tick", "orient": "horizontal", "size": 4, "xOffset": -2, "clip": true},
       "encoding": {"x": {"datum": 1, "type": "quantitative", "scale": {"domain": [0, 1], "nice": false, "zero": false}}, "y": {"field": "t", "type": "quantitative", "scale": {"type": "log", "domain": [0.00001, 0.01], "nice": false}}}},
      {"data": {"name": "xt"}, "transform": [{"filter": "datum.k == 'major'"}], "mark": {"type": "tick", "orient": "vertical", "size": 8, "yOffset": -4, "clip": true},
       "encoding": {"x": {"field": "t", "type": "quantitative", "scale": {"domain": [0, 1], "nice": false, "zero": false}}, "y": {"datum": 0.00001, "type": "quantitative", "scale": {"type": "log", "domain": [0.00001, 0.01], "nice": false}}}},
      {"data": {"name": "xt"}, "transform": [{"filter": "datum.k == 'minor'"}], "mark": {"type": "tick", "orient": "vertical", "size": 4, "yOffset": -2, "clip": true},
       "encoding": {"x": {"field": "t", "type": "quantitative", "scale": {"domain": [0, 1], "nice": false, "zero": false}}, "y": {"datum": 0.00001, "type": "quantitative", "scale": {"type": "log", "domain": [0.00001, 0.01], "nice": false}}}},
      {"data": {"name": "xt"}, "transform": [{"filter": "datum.k == 'major'"}], "mark": {"type": "tick", "orient": "vertical", "size": 8, "yOffset": 4, "clip": true},
       "encoding": {"x": {"field": "t", "type": "quantitative", "scale": {"domain": [0, 1], "nice": false, "zero": false}}, "y": {"datum": 0.01, "type": "quantitative", "scale": {"type": "log", "domain": [0.00001, 0.01], "nice": false}}}},
      {"data": {"name": "xt"}, "transform": [{"filter": "datum.k == 'minor'"}], "mark": {"type": "tick", "orient": "vertical", "size": 4, "yOffset": 2, "clip": true},
       "encoding": {"x": {"field": "t", "type": "quantitative", "scale": {"domain": [0, 1], "nice": false, "zero": false}}, "y": {"datum": 0.01, "type": "quantitative", "scale": {"type": "log", "domain": [0.00001, 0.01], "nice": false}}}}
    ]
  },
  {
    "width": 234, "height": 218,
    "title": {"text": "C", "dx": -37, "offset": 0},
    "layer": [
      {"data": {"name": "Cline"},
       "mark": {"type": "line", "strokeWidth": 2, "clip": true},
       "encoding": {
         "x": {"field": "F", "type": "quantitative", "scale": {"domain": [0, 1], "nice": false, "zero": false}, "axis": {"orient": "bottom", "values": [0, 0.2, 0.4, 0.6, 0.8, 1], "format": ".1f", "labelPadding": 1, "title": "Driving force (F)", "titlePadding": 1}},
         "y": {"field": "v", "type": "quantitative", "scale": {"type": "log", "domain": [0.000005, 1], "nice": false}, "axis": {"orient": "left", "values": [0.00001, 0.0001, 0.001, 0.01, 0.1, 1], "labelExpr": "'10' + (datum.value < 0.99 ? '⁻' : '') + ['⁰','¹','²','³','⁴','⁵','⁶'][round(abs(log(datum.value)/LN10))]", "labelPadding": 3, "labelFontSize": 16, "title": "Velocity (v)", "titlePadding": 10}},
         "order": {"field": "i", "type": "quantitative"},
         "color": {"field": "s", "type": "nominal", "scale": {"domain": ["MFT (full)", "MFT (JC)"], "range": ["black", "#ff0000"]}, "legend": null},
         "strokeDash": {"field": "s", "type": "nominal", "scale": {"domain": ["MFT (full)", "MFT (JC)"], "range": [[1, 0], [8, 4]]}, "legend": null}
       }},
      {"data": {"name": "Cpts"}, "transform": [{"filter": "datum.s == 'Simulation (full)'"}],
       "mark": {"type": "point", "shape": "circle", "filled": false, "fill": "white", "stroke": "black", "strokeWidth": 1.5, "size": 60, "opacity": 1, "clip": true},
       "encoding": {"x": {"field": "F", "type": "quantitative", "scale": {"domain": [0, 1], "nice": false, "zero": false}}, "y": {"field": "v", "type": "quantitative", "scale": {"type": "log", "domain": [0.000005, 1], "nice": false}}}},
      {"data": {"name": "Cpts"}, "transform": [{"filter": "datum.s == 'Simulation (JC)'"}],
       "mark": {"type": "point", "shape": "triangle-up", "filled": false, "fill": "white", "stroke": "#ff0000", "strokeWidth": 1.5, "size": 55, "opacity": 1, "clip": true},
       "encoding": {"x": {"field": "F", "type": "quantitative", "scale": {"domain": [0, 1], "nice": false, "zero": false}}, "y": {"field": "v", "type": "quantitative", "scale": {"type": "log", "domain": [0.000005, 1], "nice": false}}}},
      {"data": {"name": "yC"}, "transform": [{"filter": "datum.k == 'major'"}], "mark": {"type": "tick", "orient": "horizontal", "size": 8, "xOffset": 4, "clip": true},
       "encoding": {"x": {"datum": 0, "type": "quantitative", "scale": {"domain": [0, 1], "nice": false, "zero": false}}, "y": {"field": "t", "type": "quantitative", "scale": {"type": "log", "domain": [0.000005, 1], "nice": false}}}},
      {"data": {"name": "yC"}, "transform": [{"filter": "datum.k == 'minor'"}], "mark": {"type": "tick", "orient": "horizontal", "size": 4, "xOffset": 2, "clip": true},
       "encoding": {"x": {"datum": 0, "type": "quantitative", "scale": {"domain": [0, 1], "nice": false, "zero": false}}, "y": {"field": "t", "type": "quantitative", "scale": {"type": "log", "domain": [0.000005, 1], "nice": false}}}},
      {"data": {"name": "yC"}, "transform": [{"filter": "datum.k == 'major'"}], "mark": {"type": "tick", "orient": "horizontal", "size": 8, "xOffset": -4, "clip": true},
       "encoding": {"x": {"datum": 1, "type": "quantitative", "scale": {"domain": [0, 1], "nice": false, "zero": false}}, "y": {"field": "t", "type": "quantitative", "scale": {"type": "log", "domain": [0.000005, 1], "nice": false}}}},
      {"data": {"name": "yC"}, "transform": [{"filter": "datum.k == 'minor'"}], "mark": {"type": "tick", "orient": "horizontal", "size": 4, "xOffset": -2, "clip": true},
       "encoding": {"x": {"datum": 1, "type": "quantitative", "scale": {"domain": [0, 1], "nice": false, "zero": false}}, "y": {"field": "t", "type": "quantitative", "scale": {"type": "log", "domain": [0.000005, 1], "nice": false}}}},
      {"data": {"name": "xt"}, "transform": [{"filter": "datum.k == 'major'"}], "mark": {"type": "tick", "orient": "vertical", "size": 8, "yOffset": -4, "clip": true},
       "encoding": {"x": {"field": "t", "type": "quantitative", "scale": {"domain": [0, 1], "nice": false, "zero": false}}, "y": {"datum": 0.000005, "type": "quantitative", "scale": {"type": "log", "domain": [0.000005, 1], "nice": false}}}},
      {"data": {"name": "xt"}, "transform": [{"filter": "datum.k == 'minor'"}], "mark": {"type": "tick", "orient": "vertical", "size": 4, "yOffset": -2, "clip": true},
       "encoding": {"x": {"field": "t", "type": "quantitative", "scale": {"domain": [0, 1], "nice": false, "zero": false}}, "y": {"datum": 0.000005, "type": "quantitative", "scale": {"type": "log", "domain": [0.000005, 1], "nice": false}}}},
      {"data": {"name": "xt"}, "transform": [{"filter": "datum.k == 'major'"}], "mark": {"type": "tick", "orient": "vertical", "size": 8, "yOffset": 4, "clip": true},
       "encoding": {"x": {"field": "t", "type": "quantitative", "scale": {"domain": [0, 1], "nice": false, "zero": false}}, "y": {"datum": 1, "type": "quantitative", "scale": {"type": "log", "domain": [0.000005, 1], "nice": false}}}},
      {"data": {"name": "xt"}, "transform": [{"filter": "datum.k == 'minor'"}], "mark": {"type": "tick", "orient": "vertical", "size": 4, "yOffset": 2, "clip": true},
       "encoding": {"x": {"field": "t", "type": "quantitative", "scale": {"domain": [0, 1], "nice": false, "zero": false}}, "y": {"datum": 1, "type": "quantitative", "scale": {"type": "log", "domain": [0.000005, 1], "nice": false}}}}
    ]
  },
  {
    "width": 234, "height": 218,
    "title": {"text": "D", "dx": -37, "offset": 0},
    "layer": [
      {"data": {"name": "Dline"},
       "mark": {"type": "line", "strokeWidth": 2, "clip": true},
       "encoding": {
         "x": {"field": "F", "type": "quantitative", "scale": {"domain": [0, 1], "nice": false, "zero": false}, "axis": {"orient": "bottom", "values": [0, 0.2, 0.4, 0.6, 0.8, 1], "format": ".1f", "labelPadding": 1, "title": "Driving force (F)", "titlePadding": 1}},
         "y": {"field": "m", "type": "quantitative", "scale": {"type": "log", "domain": [0.0005, 1], "nice": false}, "axis": {"orient": "left", "values": [0.001, 0.01, 0.1, 1], "labelExpr": "'10' + (datum.value < 0.99 ? '⁻' : '') + ['⁰','¹','²','³','⁴','⁵','⁶'][round(abs(log(datum.value)/LN10))]", "labelPadding": 3, "labelFontSize": 16, "title": "Error rate (μ)", "titlePadding": 13}},
         "order": {"field": "i", "type": "quantitative"},
         "color": {"field": "s", "type": "nominal", "scale": {"domain": ["MFT (full)", "Simulation (full)", "MFT (JC)", "Simulation (JC)"], "range": ["black", "black", "#ff0000", "#ff0000"]}, "legend": {"orient": "none", "legendX": 96, "legendY": 62, "title": null, "symbolSize": 70, "symbolStrokeWidth": 1.8, "labelOffset": 13, "rowPadding": 5.6}},
         "strokeDash": {"field": "s", "type": "nominal", "scale": {"domain": ["MFT (full)", "Simulation (full)", "MFT (JC)", "Simulation (JC)"], "range": [[1, 0], [1, 0], [8, 4], [1, 0]]}, "legend": {"orient": "none", "legendX": 96, "legendY": 62, "title": null, "symbolSize": 70, "symbolStrokeWidth": 1.8, "labelOffset": 13, "rowPadding": 5.6}}
       }},
      {"data": {"name": "Dpts"},
       "mark": {"type": "point", "filled": false, "fill": "white", "strokeWidth": 1.5, "size": 60, "opacity": 1, "clip": true},
       "encoding": {
         "x": {"field": "F", "type": "quantitative", "scale": {"domain": [0, 1], "nice": false, "zero": false}},
         "y": {"field": "m", "type": "quantitative", "scale": {"type": "log", "domain": [0.0005, 1], "nice": false}},
         "color": {"field": "s", "type": "nominal", "scale": {"domain": ["MFT (full)", "Simulation (full)", "MFT (JC)", "Simulation (JC)"], "range": ["black", "black", "#ff0000", "#ff0000"]}, "legend": {"orient": "none", "legendX": 96, "legendY": 62, "title": null, "symbolSize": 70, "symbolStrokeWidth": 1.8, "labelOffset": 13, "rowPadding": 5.6}},
         "shape": {"field": "s", "type": "nominal", "scale": {"domain": ["MFT (full)", "Simulation (full)", "MFT (JC)", "Simulation (JC)"], "range": ["M-6,0H1.2", "circle", "M-6,0H1.2", "triangle-up"]}, "legend": {"orient": "none", "legendX": 96, "legendY": 62, "title": null, "symbolSize": 70, "symbolStrokeWidth": 1.8, "labelOffset": 13, "rowPadding": 5.6}}
       }},
      {"data": {"name": "yD"}, "transform": [{"filter": "datum.k == 'major'"}], "mark": {"type": "tick", "orient": "horizontal", "size": 8, "xOffset": 4, "clip": true},
       "encoding": {"x": {"datum": 0, "type": "quantitative", "scale": {"domain": [0, 1], "nice": false, "zero": false}}, "y": {"field": "t", "type": "quantitative", "scale": {"type": "log", "domain": [0.0005, 1], "nice": false}}}},
      {"data": {"name": "yD"}, "transform": [{"filter": "datum.k == 'minor'"}], "mark": {"type": "tick", "orient": "horizontal", "size": 4, "xOffset": 2, "clip": true},
       "encoding": {"x": {"datum": 0, "type": "quantitative", "scale": {"domain": [0, 1], "nice": false, "zero": false}}, "y": {"field": "t", "type": "quantitative", "scale": {"type": "log", "domain": [0.0005, 1], "nice": false}}}},
      {"data": {"name": "yD"}, "transform": [{"filter": "datum.k == 'major'"}], "mark": {"type": "tick", "orient": "horizontal", "size": 8, "xOffset": -4, "clip": true},
       "encoding": {"x": {"datum": 1, "type": "quantitative", "scale": {"domain": [0, 1], "nice": false, "zero": false}}, "y": {"field": "t", "type": "quantitative", "scale": {"type": "log", "domain": [0.0005, 1], "nice": false}}}},
      {"data": {"name": "yD"}, "transform": [{"filter": "datum.k == 'minor'"}], "mark": {"type": "tick", "orient": "horizontal", "size": 4, "xOffset": -2, "clip": true},
       "encoding": {"x": {"datum": 1, "type": "quantitative", "scale": {"domain": [0, 1], "nice": false, "zero": false}}, "y": {"field": "t", "type": "quantitative", "scale": {"type": "log", "domain": [0.0005, 1], "nice": false}}}},
      {"data": {"name": "xt"}, "transform": [{"filter": "datum.k == 'major'"}], "mark": {"type": "tick", "orient": "vertical", "size": 8, "yOffset": -4, "clip": true},
       "encoding": {"x": {"field": "t", "type": "quantitative", "scale": {"domain": [0, 1], "nice": false, "zero": false}}, "y": {"datum": 0.0005, "type": "quantitative", "scale": {"type": "log", "domain": [0.0005, 1], "nice": false}}}},
      {"data": {"name": "xt"}, "transform": [{"filter": "datum.k == 'minor'"}], "mark": {"type": "tick", "orient": "vertical", "size": 4, "yOffset": -2, "clip": true},
       "encoding": {"x": {"field": "t", "type": "quantitative", "scale": {"domain": [0, 1], "nice": false, "zero": false}}, "y": {"datum": 0.0005, "type": "quantitative", "scale": {"type": "log", "domain": [0.0005, 1], "nice": false}}}},
      {"data": {"name": "xt"}, "transform": [{"filter": "datum.k == 'major'"}], "mark": {"type": "tick", "orient": "vertical", "size": 8, "yOffset": 4, "clip": true},
       "encoding": {"x": {"field": "t", "type": "quantitative", "scale": {"domain": [0, 1], "nice": false, "zero": false}}, "y": {"datum": 1, "type": "quantitative", "scale": {"type": "log", "domain": [0.0005, 1], "nice": false}}}},
      {"data": {"name": "xt"}, "transform": [{"filter": "datum.k == 'minor'"}], "mark": {"type": "tick", "orient": "vertical", "size": 4, "yOffset": 2, "clip": true},
       "encoding": {"x": {"field": "t", "type": "quantitative", "scale": {"domain": [0, 1], "nice": false, "zero": false}}, "y": {"datum": 1, "type": "quantitative", "scale": {"type": "log", "domain": [0.0005, 1], "nice": false}}}}
    ]
  }
]
}
